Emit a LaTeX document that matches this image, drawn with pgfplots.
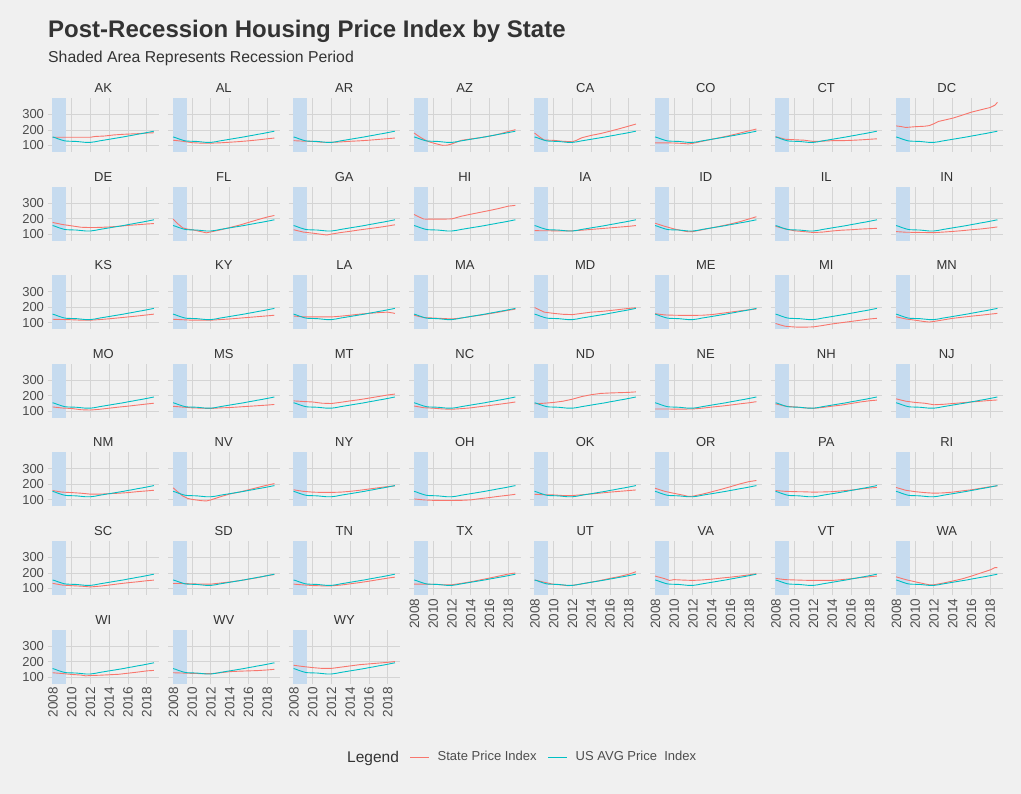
\documentclass[border=0pt]{standalone}
\usepackage{pgfplots}
\pgfplotsset{compat=1.18}
\usepackage{pgfplotstable}
\usepackage{fontspec}
\setmainfont{Liberation Sans}
\definecolor{bgc}{HTML}{F0F0F0}
\definecolor{gridc}{HTML}{D4D4D4}
\definecolor{shadec}{HTML}{C6DBEF}
\definecolor{statec}{HTML}{F8766D}
\definecolor{usc}{HTML}{00BFC4}
\definecolor{tickc}{HTML}{4D4D4D}
\definecolor{titlec}{HTML}{333333}

\pgfplotstableread{
x y
2007.97 155
2008.25 150
2008.5 144
2008.75 139
2009 134
2009.25 130
2009.5 128
2010 127
2010.5 126
2011 123
2011.5 120
2012 120
2012.5 124
2013 130
2013.5 135
2014 140
2014.5 145
2015 150
2015.5 155
2016 161
2016.5 166
2017 172
2017.5 177
2018 183
2018.5 189
2018.76 192
}\ustable

\pgfplotsset{
  panel/.style={
    scale only axis, width=111.5pt, height=54pt, anchor=north west,
    xmin=2007.43, xmax=2019.3, ymin=58, ymax=406,
    axis line style={draw=none}, major tick length=0pt, tick style={draw=none},
    xtick={2008,2010,2012,2014,2016,2018}, ytick={100,200,300},
    grid=major, major grid style={gridc, line width=0.9pt},
    xticklabels={}, yticklabels={},
    /pgf/number format/assume math mode=true,
    ticklabel style={font=\fontsize{13}{13}\selectfont, text=tickc},
    xticklabel style={rotate=90, anchor=east, font=\fontsize{13.5}{13.5}\selectfont},
    title style={at={(0.5,1)}, anchor=center, yshift=4pt, font=\fontsize{13}{13}\selectfont, text=titlec},
  },
  ylab/.style={yticklabels={100,200,300}},
  xlab/.style={xticklabels={2008,2010,2012,2014,2016,2018}},
}

\newcommand{\panel}[5]{%
\begin{axis}[panel, at={({47.5pt+120.5pt*#1},{-98pt-88.6pt*#2})}, title={#3}, #4]
\addplot[fill=shadec, draw=none] coordinates {(2007.95,406) (2009.4,406)} \closedcycle;
\addplot[statec, line width=0.9pt] coordinates {#5};
\addplot[usc, line width=0.9pt] table[x=x,y=y] {\ustable};
\end{axis}}

\begin{document}
\begin{tikzpicture}
\fill[bgc] (0,0) rectangle (1021pt,-794pt);
\node[anchor=base west, inner sep=0, text=titlec, font=\bfseries\fontsize{24}{24}\selectfont] at (48pt,-37.5pt) {Post-Recession Housing Price Index by State};
\node[anchor=base west, inner sep=0, text=titlec, font=\fontsize{15.8}{15.8}\selectfont] at (48pt,-62.5pt) {Shaded Area Represents Recession Period};

% row 0
\panel{0}{0}{AK}{ylab}{(2007.97,153)(2009,153)(2010,153)(2011,153)(2012,153)(2012.5,158)(2013.5,161)(2014.5,168)(2015.5,172)(2017,176)(2018,180)(2018.76,182)}
\panel{1}{0}{AL}{}{(2007.97,134)(2009,127)(2010,118)(2011,115)(2012,115)(2013,117)(2014,121)(2015,125)(2016,130)(2017,136)(2018,143)(2018.76,148)}
\panel{2}{0}{AR}{}{(2007.97,131)(2009,128)(2010,126)(2011,121)(2012,120)(2013,123)(2014,127)(2015,130)(2016,134)(2017,139)(2018,144)(2018.76,148)}
\panel{3}{0}{AZ}{}{(2007.97,180)(2008.5,158)(2009,140)(2009.5,125)(2010,116)(2010.5,108)(2011,101)(2011.5,102)(2012,110)(2012.5,122)(2013,133)(2014,142)(2015,150)(2016,160)(2017,173)(2018,190)(2018.76,202)}
\panel{4}{0}{CA}{}{(2007.97,180)(2008.5,155)(2009,135)(2010,133)(2011,127)(2012,124)(2012.5,135)(2013,150)(2014,165)(2015,177)(2016,192)(2017,208)(2018,225)(2018.76,238)}
\panel{5}{0}{CO}{}{(2007.97,117)(2009,117)(2010,116)(2011,113)(2011.5,110)(2012,114)(2013,127)(2014,140)(2015,152)(2016,165)(2017,180)(2018,195)(2018.76,206)}
\panel{6}{0}{CT}{}{(2007.97,157)(2008.5,148)(2009,140)(2010,137)(2011,134)(2012,126)(2013,128)(2014,131)(2015,131)(2016,133)(2017,136)(2018,140)(2018.76,143)}
\panel{7}{0}{DC}{}{(2007.97,226)(2008.5,222)(2009,216)(2010,221)(2011,224)(2011.5,228)(2012,240)(2012.5,255)(2013,262)(2014,276)(2015,295)(2016,315)(2017,330)(2018,345)(2018.5,360)(2018.76,378)}
% row 1
\panel{0}{1}{DE}{ylab}{(2007.97,175)(2009,162)(2010,153)(2011,144)(2012,142)(2013,143)(2014,146)(2015,150)(2016,156)(2017,160)(2018,165)(2018.76,168)}
\panel{1}{1}{FL}{}{(2007.97,197)(2008.5,165)(2009,140)(2009.5,132)(2010,128)(2011,115)(2011.5,108)(2012,114)(2013,127)(2014,142)(2015,157)(2016,175)(2017,193)(2018,210)(2018.76,220)}
\panel{2}{1}{GA}{}{(2007.97,128)(2009,113)(2010,106)(2011,98)(2011.5,94)(2012,100)(2013,110)(2014,118)(2015,127)(2016,135)(2017,143)(2018,152)(2018.76,160)}
\panel{3}{1}{HI}{}{(2007.97,226)(2008.5,210)(2009,197)(2010,196)(2011,196)(2012,198)(2013,215)(2014,228)(2015,240)(2016,252)(2017,265)(2018,280)(2018.76,285)}
\panel{4}{1}{IA}{}{(2007.97,122)(2010,121)(2011,120)(2012,121)(2013,125)(2014,130)(2015,135)(2016,140)(2017,145)(2018,150)(2018.76,155)}
\panel{5}{1}{ID}{}{(2007.97,170)(2009,150)(2010,133)(2011,120)(2011.5,115)(2012,116)(2013,128)(2014,140)(2015,152)(2016,165)(2017,180)(2018,198)(2018.76,212)}
\panel{6}{1}{IL}{}{(2007.97,150)(2009,133)(2010,121)(2011,116)(2012,110)(2013,113)(2014,120)(2015,125)(2016,128)(2017,132)(2018,135)(2018.76,137)}
\panel{7}{1}{IN}{}{(2007.97,116)(2009,112)(2010,111)(2011,110)(2012,109)(2013,113)(2014,117)(2015,122)(2016,128)(2017,133)(2018,140)(2018.76,146)}
% row 2
\panel{0}{2}{KS}{ylab}{(2007.97,122)(2010,119)(2011,116)(2012,116)(2013,120)(2014,125)(2015,131)(2016,137)(2017,143)(2018,150)(2018.76,155)}
\panel{1}{2}{KY}{}{(2007.97,122)(2009,119)(2010,116)(2011,116)(2012,116)(2013,120)(2014,124)(2015,129)(2016,134)(2017,139)(2018,144)(2018.76,148)}
\panel{2}{2}{LA}{}{(2007.97,143)(2009,138)(2010,137)(2011,137)(2012,137)(2013,142)(2014,148)(2015,155)(2016,160)(2017,165)(2018,168)(2018.76,160)}
\panel{3}{2}{MA}{}{(2007.97,148)(2009,133)(2010,130)(2011,127)(2012,124)(2013,130)(2014,140)(2015,148)(2016,158)(2017,168)(2018,180)(2018.76,187)}
\panel{4}{2}{MD}{}{(2007.97,198)(2008.5,182)(2009,168)(2010,160)(2011,154)(2012,152)(2013,160)(2014,168)(2015,172)(2016,178)(2017,185)(2018,192)(2018.76,196)}
\panel{5}{2}{ME}{}{(2007.97,158)(2009,150)(2010,148)(2011,147)(2012,147)(2013,148)(2014,152)(2015,160)(2016,168)(2017,176)(2018,183)(2018.76,188)}
\panel{6}{2}{MI}{}{(2007.97,95)(2008.5,85)(2009,77)(2010,72)(2011,71)(2012,73)(2013,82)(2014,92)(2015,100)(2016,108)(2017,116)(2018,124)(2018.76,128)}
\panel{7}{2}{MN}{}{(2007.97,138)(2009,124)(2010,116)(2011,107)(2011.5,104)(2012,108)(2013,118)(2014,128)(2015,135)(2016,142)(2017,148)(2018,155)(2018.76,160)}
% row 3
\panel{0}{3}{MO}{ylab}{(2007.97,128)(2009,121)(2010,118)(2011,110)(2012,108)(2013,113)(2014,120)(2015,127)(2016,133)(2017,140)(2018,147)(2018.76,152)}
\panel{1}{3}{MS}{}{(2007.97,132)(2009,127)(2010,122)(2011,120)(2012,118)(2013,122)(2014,124)(2015,128)(2016,132)(2017,136)(2018,140)(2018.76,144)}
\panel{2}{3}{MT}{}{(2007.97,167)(2009,163)(2010,160)(2011,152)(2012,150)(2013,158)(2014,167)(2015,175)(2016,185)(2017,195)(2018,205)(2018.76,211)}
\panel{3}{3}{NC}{}{(2007.97,134)(2009,123)(2010,120)(2011,115)(2012,113)(2013,117)(2014,122)(2015,130)(2016,137)(2017,145)(2018,153)(2018.76,160)}
\panel{4}{3}{ND}{}{(2007.97,148)(2009,152)(2010,157)(2011,165)(2012,178)(2013,195)(2014,207)(2015,215)(2016,218)(2017,220)(2018,222)(2018.76,225)}
\panel{5}{3}{NE}{}{(2007.97,115)(2009,115)(2010,114)(2011,114)(2012,115)(2013,120)(2014,127)(2015,133)(2016,140)(2017,148)(2018,155)(2018.76,162)}
\panel{6}{3}{NH}{}{(2007.97,148)(2009,133)(2010,128)(2011,122)(2012,119)(2013,125)(2014,133)(2015,140)(2016,150)(2017,160)(2018,168)(2018.76,172)}
\panel{7}{3}{NJ}{}{(2007.97,180)(2009,165)(2010,157)(2011,152)(2012,142)(2013,145)(2014,150)(2015,155)(2016,160)(2017,165)(2018,170)(2018.76,173)}
% row 4
\panel{0}{4}{NM}{ylab}{(2007.97,160)(2009,150)(2010,147)(2011,143)(2012,137)(2013,137)(2014,140)(2015,143)(2016,147)(2017,153)(2018,158)(2018.76,162)}
\panel{1}{4}{NV}{}{(2007.97,178)(2008.5,150)(2009,125)(2009.5,110)(2010,103)(2011,95)(2011.5,93)(2012,100)(2013,120)(2014,138)(2015,150)(2016,165)(2017,180)(2018,195)(2018.76,205)}
\panel{2}{4}{NY}{}{(2007.97,165)(2009,155)(2010,150)(2011,148)(2012,148)(2013,150)(2014,155)(2015,162)(2016,170)(2017,178)(2018,186)(2018.76,190)}
\panel{3}{4}{OH}{}{(2007.97,106)(2009,100)(2010,97)(2011,96)(2012,96)(2013,97)(2014,100)(2015,108)(2016,115)(2017,123)(2018,130)(2018.76,136)}
\panel{4}{4}{OK}{}{(2007.97,136)(2009,133)(2010,132)(2011,128)(2012,128)(2013,133)(2014,138)(2015,144)(2016,150)(2017,155)(2018,160)(2018.76,164)}
\panel{5}{4}{OR}{}{(2007.97,175)(2009,155)(2010,142)(2011,130)(2011.5,122)(2012,124)(2013,137)(2014,152)(2015,168)(2016,185)(2017,203)(2018,218)(2018.76,225)}
\panel{6}{4}{PA}{}{(2007.97,160)(2009,155)(2010,153)(2011,152)(2012,150)(2013,151)(2014,153)(2015,158)(2016,163)(2017,170)(2018,177)(2018.76,180)}
\panel{7}{4}{RI}{}{(2007.97,180)(2009,162)(2010,153)(2011,147)(2012,143)(2013,145)(2014,150)(2015,158)(2016,165)(2017,175)(2018,185)(2018.76,190)}
% row 5
\panel{0}{5}{SC}{ylab}{(2007.97,133)(2009,122)(2010,118)(2011,115)(2012,110)(2013,115)(2014,122)(2015,130)(2016,137)(2017,143)(2018,150)(2018.76,154)}
\panel{1}{5}{SD}{}{(2007.97,132)(2009,132)(2010,130)(2011,128)(2012,128)(2013,135)(2014,142)(2015,150)(2016,160)(2017,170)(2018,183)(2018.76,190)}
\panel{2}{5}{TN}{}{(2007.97,128)(2009,123)(2010,119)(2011,117)(2012,117)(2013,122)(2014,130)(2015,138)(2016,147)(2017,157)(2018,167)(2018.76,173)}
\panel{3}{5}{TX}{xlab}{(2007.97,128)(2009,128)(2010,127)(2011,124)(2012,124)(2013,133)(2014,143)(2015,155)(2016,167)(2017,180)(2018,193)(2018.76,200)}
\panel{4}{5}{UT}{xlab}{(2007.97,155)(2009,140)(2010,127)(2011,122)(2011.5,118)(2012,120)(2013,130)(2014,141)(2015,152)(2016,165)(2017,177)(2018,192)(2018.76,208)}
\panel{5}{5}{VA}{xlab}{(2007.97,180)(2009,163)(2009.5,152)(2010,157)(2011,154)(2012,152)(2013,155)(2014,160)(2015,167)(2016,173)(2017,180)(2018,188)(2018.76,195)}
\panel{6}{5}{VT}{xlab}{(2007.97,165)(2009,157)(2010,155)(2011,153)(2012,152)(2013,152)(2014,152)(2015,157)(2016,163)(2017,170)(2018,176)(2018.76,180)}
\panel{7}{5}{WA}{xlab}{(2007.97,175)(2009,157)(2010,143)(2011,130)(2011.5,124)(2012,124)(2013,135)(2014,148)(2015,162)(2016,180)(2017,200)(2018,220)(2018.5,235)(2018.76,234)}
% row 6
\panel{0}{6}{WI}{ylab,xlab}{(2007.97,128)(2009,123)(2010,117)(2011,113)(2011.5,108)(2012,110)(2013,112)(2014,115)(2015,118)(2016,125)(2017,132)(2018,140)(2018.76,143)}
\panel{1}{6}{WV}{xlab}{(2007.97,128)(2009,126)(2010,124)(2011,122)(2012,122)(2013,128)(2014,135)(2015,138)(2016,140)(2017,142)(2018,146)(2018.76,150)}
\panel{2}{6}{WY}{xlab}{(2007.97,176)(2009,168)(2010,161)(2011,156)(2012,156)(2013,164)(2014,172)(2015,180)(2016,185)(2017,190)(2018,195)(2018.76,200)}

% legend
\node[anchor=base west, inner sep=0, text=titlec, font=\fontsize{15.5}{15.5}\selectfont] at (347pt,-762pt) {Legend};
\begin{axis}[hide axis, scale only axis, width=1pt, height=1pt, anchor=center, at={(410pt,-757pt)},
  xmin=0, xmax=1, ymin=0, ymax=1,
  legend columns=-1,
  legend style={at={(0,0.5)}, anchor=west, draw=none, fill=none, inner sep=0pt,
    font=\fontsize{13}{13}\selectfont,
    /tikz/every odd column/.append style={column sep=6pt},
    /tikz/every even column/.append style={column sep=9pt}},
]
\addlegendimage{legend image code/.code={\draw[draw=statec, line width=1pt] (0pt,0pt) -- (19pt,0pt);}}
\addlegendentry[text=tickc]{State Price Index}
\addlegendimage{legend image code/.code={\draw[draw=usc, line width=1pt] (0pt,0pt) -- (19pt,0pt);}}
\addlegendentry[text=tickc]{US AVG Price\ \ Index}
\end{axis}
\pgfresetboundingbox
\path[use as bounding box] (0,0) rectangle (1021pt,-794pt);
\end{tikzpicture}
\end{document}
